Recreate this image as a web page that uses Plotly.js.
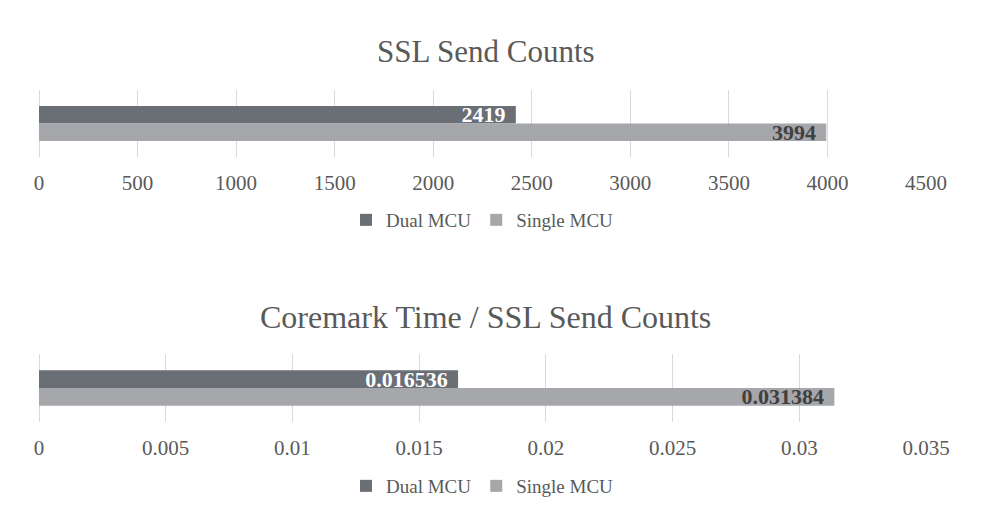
<!DOCTYPE html>
<html>
<head>
<meta charset="utf-8">
<script src="https://cdn.plot.ly/plotly-3.0.1.min.js"></script>
<style>html,body{margin:0;padding:0;background:#fff;}#chart{width:1007px;height:522px;}</style>
</head>
<body>
<div id="chart"></div>
<script>
// ---- data ----
var seriesNames = ["Dual MCU", "Single MCU"];
var chartTitles = ["SSL Send Counts", "Coremark Time / SSL Send Counts"];
var categoryTop = ["SSL Send Counts"];
var categoryBottom = ["Coremark Time / SSL Send Counts"];
var sslDual = [2419];
var sslSingle = [3994];
var ratioDual = [0.016536];
var ratioSingle = [0.031384];
var labelsSslDual = ["2419"];
var labelsSslSingle = ["3994"];
var labelsRatioDual = ["0.016536"];
var labelsRatioSingle = ["0.031384"];

// ---- styles ----
var FONT = "Liberation Serif, Times New Roman, serif";
var TXT = "#595959";
var DUAL = "#6a6e75";
var SINGLE = "#a5a7ab";
var GRID = "#d9d9d9";
var PAD = "\u00a0\u200a";

function barTrace(name, x, y, labels, color, labelColor, xa, ya, legendId, showLeg) {
  return {
    type: "bar", orientation: "h", name: name,
    x: x, y: y,
    text: labels.map(function(s){ return s + PAD; }),
    textposition: "inside", insidetextanchor: "end", constraintext: "none",
    textfont: {family: FONT, size: 22, color: labelColor, weight: "bold"},
    marker: {color: color, line: {width: 0}},
    xaxis: xa, yaxis: ya, legend: legendId, showlegend: showLeg,
    hoverinfo: "x+name", cliponaxis: false
  };
}

var traces = [
  barTrace(seriesNames[0], sslDual, categoryTop, labelsSslDual, DUAL, "#ffffff", "x", "y", "legend", true),
  barTrace(seriesNames[1], sslSingle, categoryTop, labelsSslSingle, SINGLE, "#404040", "x", "y", "legend", true),
  barTrace(seriesNames[0], ratioDual, categoryBottom, labelsRatioDual, DUAL, "#ffffff", "x2", "y2", "legend2", true),
  barTrace(seriesNames[1], ratioSingle, categoryBottom, labelsRatioSingle, SINGLE, "#404040", "x2", "y2", "legend2", true)
];

function xAxis(range, dtick, anchor) {
  return {
    range: range, dtick: dtick, tick0: 0, anchor: anchor,
    showgrid: true, gridcolor: GRID, gridwidth: 1,
    zeroline: true, zerolinecolor: GRID, zerolinewidth: 1,
    showline: false, ticks: "", ticklabelstandoff: 11,
    tickfont: {family: FONT, size: 21, color: TXT},
    fixedrange: true
  };
}
function yAxis(domain, anchor) {
  return {
    type: "category", domain: domain, anchor: anchor, autorange: "reversed",
    showticklabels: false, showgrid: false, zeroline: false, showline: false, ticks: "",
    fixedrange: true
  };
}

var H = 522;
function py(px) { return 1 - px / H; }

var layout = {
  width: 1007, height: 522,
  margin: {l: 39, r: 81, t: 0, b: 0},
  paper_bgcolor: "#ffffff", plot_bgcolor: "#ffffff",
  barmode: "group", bargap: 0.48, bargroupgap: 0,
  font: {family: FONT, color: TXT},
  xaxis: xAxis([0, 4500], 500, "y"),
  yaxis: yAxis([py(157), py(90)], "x"),
  xaxis2: xAxis([0, 0.035], 0.005, "y2"),
  yaxis2: yAxis([py(422), py(354)], "x2"),
  legend: {orientation: "h", x: 0.5, xanchor: "center", y: py(220), yanchor: "middle", itemwidth: 30,
           font: {family: FONT, size: 19, color: TXT}, traceorder: "normal", itemclick: false},
  legend2: {orientation: "h", x: 0.5, xanchor: "center", y: py(486), yanchor: "middle", itemwidth: 30,
           font: {family: FONT, size: 19, color: TXT}, traceorder: "normal", itemclick: false},
  annotations: [
    {text: chartTitles[0], xref: "paper", yref: "paper", x: 0.5, y: py(52), xanchor: "center", yanchor: "middle",
     showarrow: false, xshift: 3, font: {family: FONT, size: 31, color: TXT}},
    {text: chartTitles[1], xref: "paper", yref: "paper", x: 0.5, y: py(317), xanchor: "center", yanchor: "middle",
     showarrow: false, xshift: 3, font: {family: FONT, size: 32, color: TXT}}
  ],
  showlegend: true
};

Plotly.newPlot("chart", traces, layout, {displayModeBar: false, staticPlot: true});
</script>
</body>
</html>
